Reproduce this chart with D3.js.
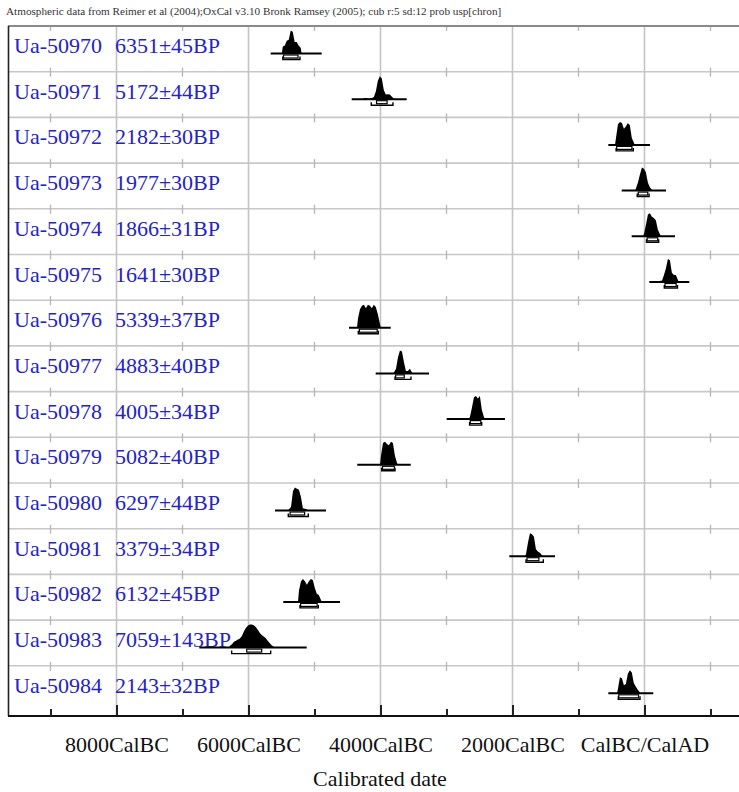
<!DOCTYPE html>
<html>
<head>
<meta charset="utf-8">
<script src="https://cdn.jsdelivr.net/npm/d3@7"></script>
<style>
	body { margin: 0; background: #fff; }
	svg { display: block; }
</style>
</head>
<body>
<div id="chart"></div>
<script>
// sample names and radiocarbon ages
const labCodes = ["Ua-50970", "Ua-50971", "Ua-50972", "Ua-50973", "Ua-50974", "Ua-50975", "Ua-50976",
	"Ua-50977", "Ua-50978", "Ua-50979", "Ua-50980", "Ua-50981", "Ua-50982", "Ua-50983", "Ua-50984"];
const ages = ["6351±45BP", "5172±44BP", "2182±30BP", "1977±30BP", "1866±31BP", "1641±30BP", "5339±37BP",
	"4883±40BP", "4005±34BP", "5082±40BP", "6297±44BP", "3379±34BP", "6132±45BP", "7059±143BP", "2143±32BP"];

const probStart = [-5480, -4250, -432, -129, -8, 235, -4341, -3795, -2644, -3992, -5386, -1795, -5235, -6280, -402];
const probStep = 30;
const probs = [
	[0.3, 0.35, 0.55, 0.6, 1.0, 0.95, 0.5, 0.5, 0.35, 0.25],
	[0.05, 0.05, 0.03, 0.03, 0.05, 0.1, 0.35, 0.8, 1.0, 0.9, 0.4, 0.2, 0.22, 0.2, 0.12, 0.03],
	[0.3, 0.9, 1.0, 0.95, 0.7, 0.8, 0.95, 0.85, 0.3, 0.1],
	[0.1, 0.35, 0.7, 1.0, 0.95, 0.8, 0.35, 0.15, 0.05],
	[0.1, 0.5, 0.95, 1.0, 0.85, 0.8, 0.7, 0.3, 0.1],
	[0.05, 0.05, 0.3, 0.6, 1.0, 0.95, 0.4, 0.3, 0.3, 0.1],
	[0.4, 0.8, 0.95, 1.0, 0.85, 1.0, 0.95, 0.85, 1.0, 0.9, 0.6, 0.2],
	[0.05, 0.2, 0.7, 1.0, 0.95, 0.5, 0.1, 0.1, 0.2, 0.05],
	[0.1, 0.5, 0.95, 1.0, 0.9, 1.0, 0.4, 0.1],
	[0.4, 0.95, 1.0, 0.9, 0.85, 1.0, 0.95, 0.4, 0.1],
	[0.05, 0.15, 0.85, 1.0, 0.95, 0.9, 0.6, 0.1, 0.08, 0.05],
	[0.1, 0.6, 1.0, 0.95, 0.85, 0.3, 0.2, 0.15, 0.05],
	[0.5, 0.9, 1.0, 0.9, 0.75, 0.9, 1.0, 0.95, 0.6, 0.35, 0.3, 0.1],
	[0.08, 0.15, 0.25, 0.3, 0.35, 0.4, 0.5, 0.7, 0.85, 0.95, 1.0, 1.0, 0.97, 0.9, 0.78, 0.65, 0.55, 0.48, 0.42, 0.3, 0.2, 0.1, 0.04],
	[0.2, 0.7, 0.65, 0.35, 0.4, 0.85, 1.0, 0.9, 0.45, 0.3, 0.15, 0.05]
];

// extent of the plotted date line, 68.2% and 95.4% ranges (years, BC negative)
const lineRanges = [[-5664, -4891], [-4436, -3603], [-548, 83], [-345, 326], [-194, 462], [73, 679], [-4477, -3845],
	[-4073, -3265], [-2997, -2114], [-4352, -3542], [-5598, -4826], [-2048, -1356], [-5473, -4614], [-6745, -5118], [-548, 133]];
const range68 = [[-5470, -5250], [-4060, -3900], [-421, -190], [-94, 50], [40, 200], [311, 480], [-4320, -4050],
	[-3770, -3640], [-2640, -2480], [-3970, -3790], [-5370, -5150], [-1780, -1600], [-5210, -4960], [-6027, -5800], [-390, -90]];
const range95 = [[-5480, -5220], [-4140, -3811], [-430, -170], [-110, 70], [30, 215], [300, 500], [-4336, -4033],
	[-3780, -3538], [-2650, -2467], [-3982, -3780], [-5397, -5094], [-1795, -1533], [-5220, -4942], [-6255, -5664], [-397, -68]];

const majorTicks = [-8000, -6000, -4000, -2000, 0];
const minorTicks = [-9000, -7000, -5000, -3000, -1000, 1000];
const tickLabels = ["8000CalBC", "6000CalBC", "4000CalBC", "2000CalBC", "CalBC/CalAD"];

const width = 739, height = 792;
const plot = {left: 8, right: 739, top: 26, rowsBottom: 711.5, bottom: 716};

const svg = d3.select("#chart")
	.append("svg")
		.attr("width", width)
		.attr("height", height)
		.style("font-family", "'Liberation Serif', 'Times New Roman', serif");

const x = d3.scaleLinear()
	.domain([-9644, 1432])
	.range([plot.left, plot.right]);
const y = d3.scaleBand()
	.domain(labCodes)
	.range([plot.top, plot.rowsBottom]);

// header
svg.append("text")
	.attr("x", 6)
	.attr("y", 15)
	.attr("font-size", "11.2px")
	.attr("fill", "#333")
	.text("Atmospheric data from Reimer et al (2004);OxCal v3.10 Bronk Ramsey (2005); cub r:5 sd:12 prob usp[chron]");

// row separators
svg.append("g")
	.selectAll("line")
	.data(labCodes.slice(1))
	.join("line")
		.attr("x1", plot.left)
		.attr("x2", plot.right)
		.attr("y1", d => y(d))
		.attr("y2", d => y(d))
		.attr("stroke", "#c8c8c8")
		.attr("stroke-width", 1.6);

// major grid lines
svg.append("g")
	.selectAll("line")
	.data(majorTicks)
	.join("line")
		.attr("x1", d => x(d))
		.attr("x2", d => x(d))
		.attr("y1", plot.top)
		.attr("y2", plot.bottom)
		.attr("stroke", "#c4c4c4")
		.attr("stroke-width", 1.6);

// small minor ticks at each row boundary
const rowTops = labCodes.map(d => y(d));
svg.append("g")
	.selectAll("line")
	.data(d3.cross(minorTicks, rowTops))
	.join("line")
		.attr("x1", d => x(d[0]))
		.attr("x2", d => x(d[0]))
		.attr("y1", d => Math.max(d[1] - 4, plot.top + 1))
		.attr("y2", d => d[1] + 5)
		.attr("stroke", "#b8b8b8")
		.attr("stroke-width", 1.4);

// frame
svg.append("line")
	.attr("x1", plot.left).attr("x2", plot.right)
	.attr("y1", plot.top).attr("y2", plot.top)
	.attr("stroke", "#8a8a8a").attr("stroke-width", 2.2);
svg.append("line")
	.attr("x1", plot.left + 0.5).attr("x2", plot.left + 0.5)
	.attr("y1", plot.top).attr("y2", plot.bottom)
	.attr("stroke", "#222").attr("stroke-width", 1.6);

// labels
const labelG = svg.append("g")
	.attr("font-size", "22px")
	.attr("fill", "#2323c8");
labelG.selectAll(".code")
	.data(labCodes)
	.join("text")
		.attr("class", "code")
		.attr("x", 14)
		.attr("y", d => y(d) + 27)
		.text(d => d);
labelG.selectAll(".age")
	.data(ages)
	.join("text")
		.attr("class", "age")
		.attr("x", 115)
		.attr("y", (d, i) => y(labCodes[i]) + 27)
		.text(d => d);

// distributions
const peakH = 23;
const baseOff = 27.5;
const rows = labCodes.map((code, i) => ({
	code,
	base: y(code) + baseOff,
	pts: probs[i].map((p, j) => [probStart[i] + j * probStep, p]),
	line: lineRanges[i],
	r68: range68[i],
	r95: range95[i]
}));

const dist = svg.append("g").selectAll("g")
	.data(rows)
	.join("g");

dist.append("line")
	.attr("x1", d => x(d.line[0]))
	.attr("x2", d => x(d.line[1]))
	.attr("y1", d => d.base)
	.attr("y2", d => d.base)
	.attr("stroke", "#000")
	.attr("stroke-width", 2);

dist.append("path")
	.attr("d", d => d3.area()
		.x(p => x(p[0]))
		.y0(d.base)
		.y1(p => d.base - p[1] * peakH)
		.curve(d3.curveLinear)([[d.pts[0][0] - probStep / 2, 0], ...d.pts, [d.pts[d.pts.length - 1][0] + probStep / 2, 0]]))
	.attr("fill", "#000");

// 68.2% range box
dist.append("rect")
	.attr("x", d => x(d.r68[0]))
	.attr("y", d => d.base + 1.5)
	.attr("width", d => x(d.r68[1]) - x(d.r68[0]))
	.attr("height", 3)
	.attr("fill", "#fff")
	.attr("stroke", "#000")
	.attr("stroke-width", 1.2);

// 95.4% range bracket
dist.append("path")
	.attr("d", d => `M${x(d.r95[0])},${d.base + 3}V${d.base + 6}H${x(d.r95[1])}V${d.base + 3}`)
	.attr("fill", "none")
	.attr("stroke", "#000")
	.attr("stroke-width", 1.4);

// bottom axis
const axisG = svg.append("g")
	.attr("transform", `translate(0,${plot.bottom})`);
axisG.call(d3.axisBottom(x)
	.tickValues(majorTicks)
	.tickFormat((d, i) => tickLabels[i])
	.tickSizeInner(-11)
	.tickSizeOuter(0)
	.tickPadding(20));
axisG.append("g").call(d3.axisBottom(x)
	.tickValues(minorTicks)
	.tickFormat("")
	.tickSizeInner(-7)
	.tickSizeOuter(0));
axisG.selectAll(".domain")
	.attr("stroke", "#111")
	.attr("stroke-width", 2)
	.attr("d", `M${plot.left},0H${plot.right}`);
axisG.selectAll(".tick line")
	.attr("stroke", "#222")
	.attr("stroke-width", 2);
axisG.selectAll(".tick text")
	.attr("font-family", "'Liberation Serif', 'Times New Roman', serif")
	.attr("font-size", "22px")
	.attr("fill", "#111");

svg.append("text")
	.attr("x", 380)
	.attr("y", 786)
	.attr("text-anchor", "middle")
	.attr("font-size", "22px")
	.attr("fill", "#111")
	.text("Calibrated date");
</script>
</body>
</html>
